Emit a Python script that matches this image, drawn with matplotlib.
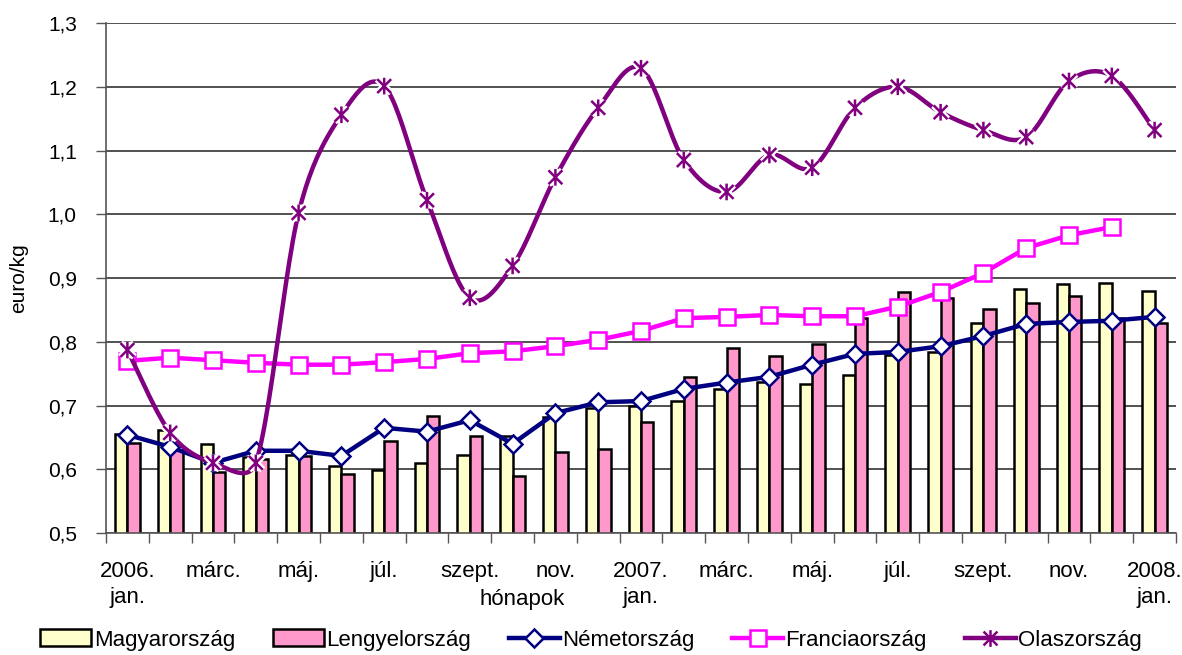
import numpy as np
import matplotlib.pyplot as plt
from matplotlib.path import Path
from matplotlib.lines import Line2D
from matplotlib.patches import Patch
import matplotlib.patheffects as pe

plt.rcParams['font.family'] = ['Liberation Sans', 'DejaVu Sans']

months = ['2006.\njan.', '', 'márc.', '', 'máj.', '', 'júl.', '', 'szept.', '', 'nov.', '',
          '2007.\njan.', '', 'márc.', '', 'máj.', '', 'júl.', '', 'szept.', '', 'nov.', '',
          '2008.\njan.']

magyar = [0.655, 0.662, 0.640, 0.619, 0.622, 0.605, 0.599, 0.610, 0.622, 0.652,
          0.682, 0.696, 0.700, 0.707, 0.726, 0.737, 0.734, 0.748, 0.780, 0.784,
          0.829, 0.882, 0.890, 0.892, 0.880]
lengyel = [0.641, 0.630, 0.596, 0.616, 0.621, 0.593, 0.645, 0.684, 0.652, 0.589,
           0.627, 0.632, 0.674, 0.745, 0.790, 0.778, 0.796, 0.838, 0.878, 0.868,
           0.852, 0.861, 0.872, 0.838, 0.829]
nemet = [0.654, 0.635, 0.610, 0.629, 0.629, 0.621, 0.665, 0.659, 0.677, 0.640,
         0.688, 0.705, 0.707, 0.726, 0.736, 0.745, 0.764, 0.781, 0.784, 0.793,
         0.809, 0.828, 0.831, 0.833, 0.839]
francia = [0.770, 0.775, 0.771, 0.767, 0.764, 0.764, 0.768, 0.773, 0.782, 0.785,
           0.793, 0.803, 0.817, 0.837, 0.839, 0.842, 0.840, 0.840, 0.855, 0.878,
           0.908, 0.947, 0.967, 0.980]
olasz = [0.787, 0.657, 0.610, 0.610, 1.002, 1.156, 1.201, 1.022, 0.869, 0.919,
         1.058, 1.167, 1.229, 1.085, 1.035, 1.093, 1.073, 1.167, 1.200, 1.160,
         1.132, 1.121, 1.209, 1.217, 1.132]


def smooth(xs, ys, sx=42.8, sy=637.5, n=24):
    # bezier smoothing like the spreadsheet's, worked out in screen-like units
    p = np.column_stack([np.asarray(xs) * sx, np.asarray(ys) * sy]).astype(float)
    out = []
    for i in range(len(p) - 1):
        p0 = p[i - 1] if i > 0 else p[i]
        p3 = p[i + 2] if i + 2 < len(p) else p[i + 1]
        half = np.hypot(*(p[i + 1] - p[i])) / 2
        v1 = (p[i + 1] - p0) / 6
        v2 = (p3 - p[i]) / 6
        if np.hypot(*v1) > half:
            v1 = v1 * half / np.hypot(*v1)
        if np.hypot(*v2) > half:
            v2 = v2 * half / np.hypot(*v2)
        c1 = p[i] + v1
        c2 = p[i + 1] - v2
        t = np.linspace(0, 1, n)[:, None]
        seg = (1 - t) ** 3 * p[i] + 3 * (1 - t) ** 2 * t * c1 + 3 * (1 - t) * t ** 2 * c2 + t ** 3 * p[i + 1]
        out.append(seg if i == 0 else seg[1:])
    out = np.vstack(out)
    return out[:, 0] / sx, out[:, 1] / sy


star = Path([(-1, -1), (1, 1), (-1, 1), (1, -1), (0, -1.2), (0, 1.2)],
            [Path.MOVETO, Path.LINETO, Path.MOVETO, Path.LINETO, Path.MOVETO, Path.LINETO])

x = np.arange(len(months))
w = 0.29

fig = plt.figure(figsize=(11.82, 6.55), dpi=100)
ax = fig.add_axes([106 / 1182, 1 - 533 / 655, 1070 / 1182, 510 / 655])

ax.bar(x - w / 2, magyar, w, bottom=0, color='#ffffcc', edgecolor='black', linewidth=1.8, zorder=2)
ax.bar(x + w / 2, lengyel, w, bottom=0, color='#ff99cc', edgecolor='black', linewidth=1.8, zorder=2)

ax.plot(x, nemet, color='#000080', lw=3.2, marker='D', ms=9, mfc='white', mec='#000080', mew=1.8, zorder=3)
ax.plot(x[:len(francia)], francia, color='#ff00ff', lw=3.2, marker='s', ms=12, mfc='white', mec='#ff00ff',
        mew=1.8, zorder=4)
cx, cy = smooth(x, olasz)
ax.plot(cx, cy, color='#800080', lw=3.2, zorder=5)
ax.plot(x, olasz, ls='none', marker=star, ms=12, mec='#800080', mew=1.8, zorder=6,
        path_effects=[pe.withStroke(linewidth=5, foreground='white')])

ax.set_xlim(-0.5, len(months) - 0.5)
ax.set_ylim(0.5, 1.3)
ax.set_yticks(np.arange(0.5, 1.31, 0.1))
ax.set_yticklabels([f'{v:.1f}'.replace('.', ',') for v in np.arange(0.5, 1.31, 0.1)], fontsize=15)
ax.yaxis.grid(True, color='#333333', lw=1.2)
ax.set_axisbelow(True)
ax.tick_params(axis='y', length=7, width=1, color='#555555', pad=14)

ax.set_xticks(x)
ax.set_xticklabels(months, fontsize=16, linespacing=1.35)
ax.set_xticks(np.arange(-0.5, len(months)), minor=True)
ax.tick_params(axis='x', which='major', length=0, pad=20)
ax.tick_params(axis='x', which='minor', length=7, width=1, color='#555555')

for s in ['top', 'right']:
    ax.spines[s].set_visible(False)
for s in ['left', 'bottom']:
    ax.spines[s].set_color('#555555')
    ax.spines[s].set_linewidth(1.2)

ax.set_ylabel('euro/kg', fontsize=15, labelpad=14)
ax.text(0.389, -0.131, 'hónapok', transform=ax.transAxes, ha='center', va='center', fontsize=16)

handles = [
    Patch(facecolor='#ffffcc', edgecolor='black', linewidth=1.8),
    Patch(facecolor='#ff99cc', edgecolor='black', linewidth=1.8),
    Line2D([], [], color='#000080', lw=3.2, marker='D', ms=9, mfc='white', mec='#000080', mew=1.8),
    Line2D([], [], color='#ff00ff', lw=3.2, marker='s', ms=12, mfc='white', mec='#ff00ff', mew=1.8),
    Line2D([], [], color='#800080', lw=3.2, marker=star, ms=12, mec='#800080', mew=1.8),
]
labels = ['Magyarország', 'Lengyelország', 'Németország', 'Franciaország', 'Olaszország']
fig.legend(handles, labels, loc='center', bbox_to_anchor=(0.5, 1 - 640 / 655), ncol=5, frameon=False,
           fontsize=16, handlelength=2.3, handleheight=0.8, handletextpad=0.1, columnspacing=1.7,
           borderaxespad=0)

fig.savefig('out.png', dpi=100)
